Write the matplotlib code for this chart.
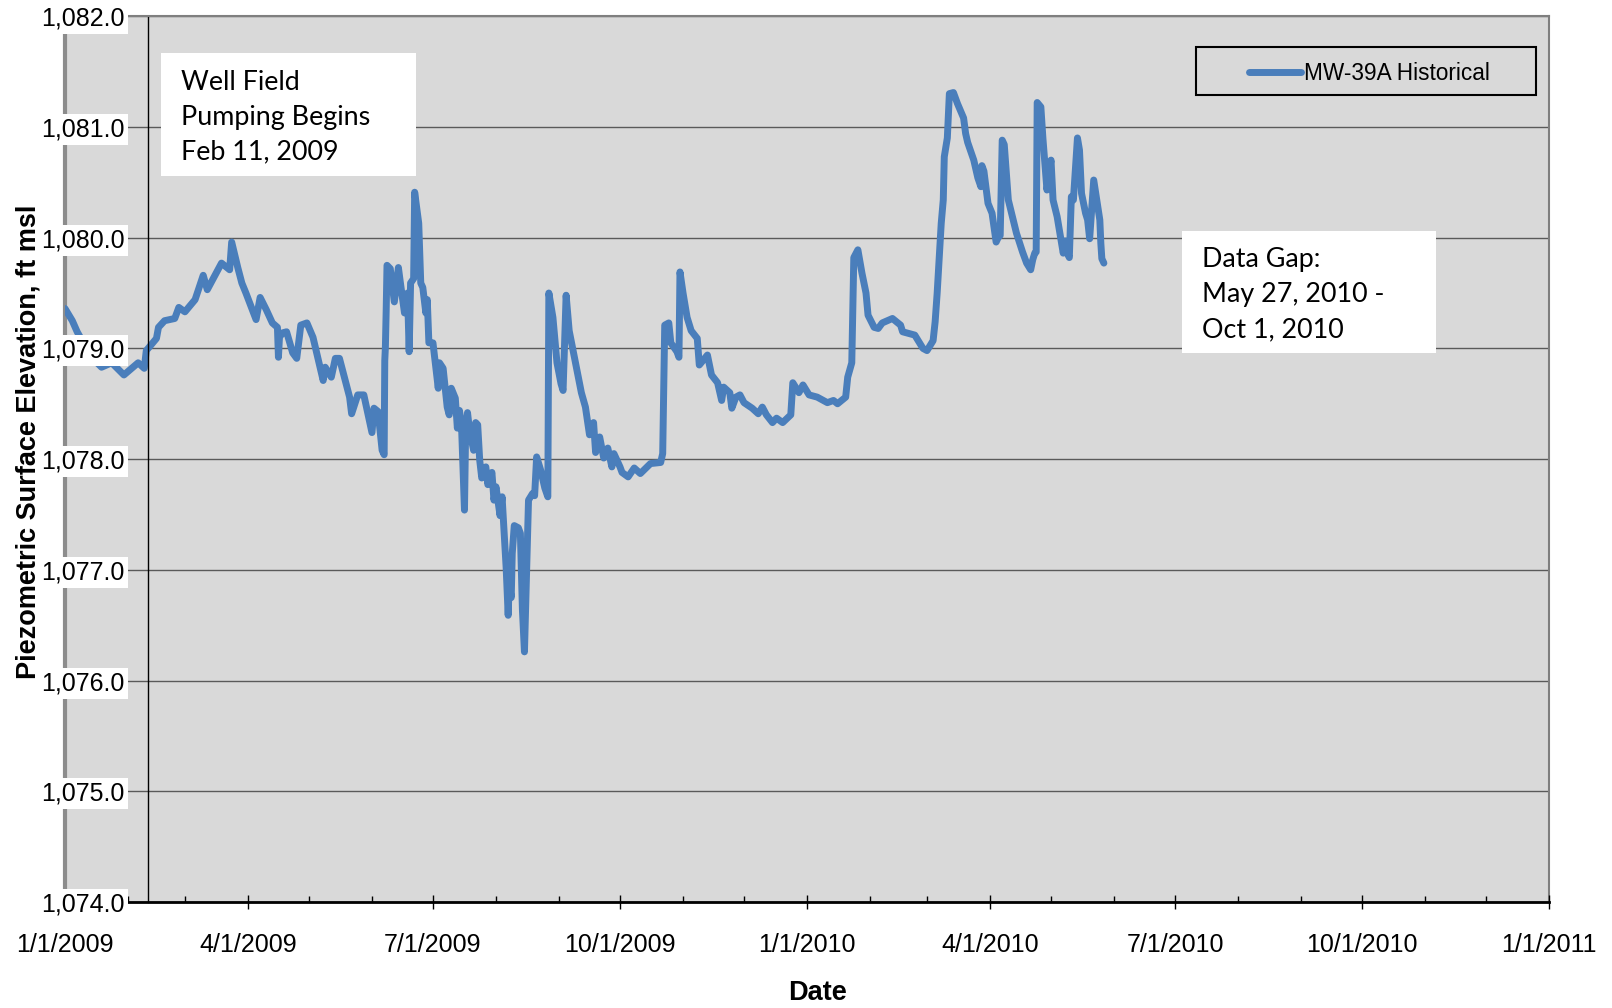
import numpy as np
import pandas as pd
import matplotlib
matplotlib.use('Agg')
import matplotlib.pyplot as plt
import matplotlib.dates as mdates
from matplotlib.patches import Rectangle

# %% Datos: MW-39A, dias desde 1/1/2009 y nivel (ft msl)
fecha_inicio = '2009-01-01'
inicio_bombeo = '2009-02-11'
serie = 'MW-39A Historical'

dias = [0, 3.6, 6, 13, 18, 23, 29, 36, 39, 40,
        45, 46, 49, 54, 56, 59, 64, 68, 70, 77,
        81, 82, 85, 87, 89, 94, 96, 99, 102, 104.5,
        105, 105.5, 107, 109, 112, 114, 116, 119, 122, 127,
        128, 131, 133, 135, 140, 141, 144, 147, 151, 152,
        154, 156, 157, 157.3, 157.6, 158, 158.4, 160, 162, 164,
        165, 167, 168.5, 169.3, 170, 171.5, 172, 174, 175, 176,
        177.5, 178.2, 179, 181, 183, 183.6, 184.2, 186, 188, 189,
        190, 192, 193, 194, 195, 196.5, 197, 198, 199, 201,
        202, 203, 204, 205, 207, 208, 210, 211, 212, 214,
        215, 217, 218, 218.5, 219.5, 220, 221, 223, 224, 225,
        226, 227.5, 228, 230, 231, 232, 234, 236, 237.5, 238,
        240, 242, 244, 245, 246.5, 248, 251, 254, 256, 258,
        260, 261, 263, 265, 267, 269, 270, 273, 274, 277,
        280, 283, 288, 293, 294, 295, 297, 298, 301, 302,
        302.5, 304, 306, 308, 311, 312, 316, 318, 321, 323,
        324, 327, 328, 330, 332, 334, 338, 341, 343, 345,
        348, 350, 353, 357, 358, 361, 363, 366, 370, 375,
        378, 380, 384, 385, 387, 388, 390, 392, 394, 395,
        398, 400, 402, 407, 411, 412, 418, 422, 424, 427,
        428, 429, 431, 432, 432.5, 434, 435, 437, 439, 442,
        443, 444, 447, 449, 450.5, 451, 452, 454, 456, 458,
        459, 460, 461, 462, 464, 466, 468, 471, 473, 475,
        476, 477, 477.7, 478.2, 480, 481, 483, 484, 485, 486,
        488, 491, 492, 493, 494, 495, 496, 498, 499, 500,
        502, 503, 504, 506, 507, 509, 509.5, 510, 511]

nivel = [1079.36, 1079.25, 1079.15, 1078.92, 1078.83, 1078.87, 1078.76, 1078.87, 1078.82, 1078.98,
         1079.09, 1079.19, 1079.25, 1079.27, 1079.37, 1079.33, 1079.44, 1079.66, 1079.53, 1079.77,
         1079.71, 1079.96, 1079.73, 1079.59, 1079.50, 1079.26, 1079.46, 1079.35, 1079.23, 1079.19,
         1078.92, 1079.10, 1079.14, 1079.15, 1078.96, 1078.91, 1079.21, 1079.23, 1079.10, 1078.71,
         1078.83, 1078.74, 1078.91, 1078.91, 1078.56, 1078.41, 1078.58, 1078.58, 1078.24, 1078.46,
         1078.43, 1078.08, 1078.04, 1078.89, 1079.01, 1079.35, 1079.75, 1079.72, 1079.42, 1079.73,
         1079.59, 1079.32, 1079.50, 1078.97, 1079.59, 1079.63, 1080.41, 1080.13, 1079.59, 1079.55,
         1079.32, 1079.44, 1079.05, 1079.05, 1078.74, 1078.64, 1078.87, 1078.82, 1078.47, 1078.40,
         1078.64, 1078.55, 1078.28, 1078.44, 1078.33, 1077.54, 1078.17, 1078.42, 1078.26, 1078.08,
         1078.33, 1078.31, 1077.99, 1077.83, 1077.93, 1077.77, 1077.88, 1077.63, 1077.75, 1077.49,
         1077.66, 1077.02, 1076.59, 1076.88, 1076.75, 1077.15, 1077.40, 1077.38, 1077.33, 1076.64,
         1076.26, 1077.27, 1077.63, 1077.69, 1077.67, 1078.02, 1077.90, 1077.74, 1077.66, 1079.50,
         1079.28, 1078.87, 1078.68, 1078.62, 1079.48, 1079.16, 1078.88, 1078.60, 1078.47, 1078.22,
         1078.33, 1078.06, 1078.20, 1078.01, 1078.10, 1077.93, 1078.05, 1077.93, 1077.88, 1077.84,
         1077.92, 1077.87, 1077.96, 1077.97, 1078.05, 1079.21, 1079.23, 1079.05, 1078.97, 1078.92,
         1079.69, 1079.50, 1079.28, 1079.16, 1079.09, 1078.85, 1078.94, 1078.76, 1078.69, 1078.53,
         1078.65, 1078.60, 1078.46, 1078.56, 1078.58, 1078.51, 1078.46, 1078.41, 1078.47, 1078.40,
         1078.33, 1078.37, 1078.33, 1078.40, 1078.69, 1078.60, 1078.67, 1078.58, 1078.56, 1078.51,
         1078.53, 1078.50, 1078.56, 1078.74, 1078.87, 1079.82, 1079.89, 1079.68, 1079.50, 1079.30,
         1079.19, 1079.18, 1079.23, 1079.27, 1079.21, 1079.15, 1079.12, 1079.00, 1078.98, 1079.07,
         1079.24, 1079.50, 1080.13, 1080.34, 1080.73, 1080.90, 1081.30, 1081.31, 1081.21, 1081.08,
         1080.94, 1080.86, 1080.70, 1080.54, 1080.46, 1080.65, 1080.60, 1080.31, 1080.22, 1079.96,
         1080.00, 1080.02, 1080.88, 1080.84, 1080.34, 1080.19, 1080.04, 1079.87, 1079.77, 1079.71,
         1079.80, 1079.86, 1079.87, 1081.22, 1081.18, 1080.90, 1080.43, 1080.58, 1080.70, 1080.34,
         1080.19, 1079.86, 1079.97, 1079.86, 1079.82, 1080.37, 1080.34, 1080.90, 1080.79, 1080.40,
         1080.22, 1080.16, 1079.99, 1080.52, 1080.40, 1080.16, 1079.95, 1079.81, 1079.77]

assert len(dias) == len(nivel)

y_min, y_max = 1074.0, 1082.0
y_ticks = np.arange(1074, 1083, 1)
x_lim = ['2009-01-01', '2011-01-01']

texto_bombeo = 'Well Field\nPumping Begins\nFeb 11, 2009'
texto_hueco = 'Data Gap:\nMay 27, 2010 -\nOct 1, 2010'

fechas = pd.Timestamp(fecha_inicio) + pd.to_timedelta(dias, unit='D')

# %% Grafica
azul = '#4a7ebb'
gris_fondo = '#d9d9d9'

fig = plt.figure(figsize=(16.12, 10.08), dpi=100)
ax = fig.add_axes([0.0403, 0.105, 0.9207, 0.879])
ax.set_facecolor(gris_fondo)
ax.set_axisbelow(False)   # etiquetas del eje por encima de la serie

for yv in y_ticks:
    ax.axhline(yv, color='#5a5a5a', lw=1.0, zorder=1)

ax.plot(fechas, nivel, color=azul, lw=5, solid_joinstyle='round',
        solid_capstyle='round', zorder=2, label=serie)

ax.set_xlim(pd.Timestamp(x_lim[0]), pd.Timestamp(x_lim[1]))
ax.set_ylim(y_min, y_max)
ax.set_yticks(y_ticks)
ax.yaxis.set_major_formatter(plt.FuncFormatter(lambda v, p: f'{v:,.1f}'))

ax.xaxis.set_major_locator(mdates.MonthLocator(bymonth=[1, 4, 7, 10]))
ax.xaxis.set_minor_locator(mdates.MonthLocator())
ax.xaxis.set_major_formatter(plt.FuncFormatter(
    lambda v, p: f'{mdates.num2date(v).month}/{mdates.num2date(v).day}/{mdates.num2date(v).year}'))

# eje vertical en el inicio del bombeo
ax.spines['left'].set_position(('data', mdates.date2num(pd.Timestamp(inicio_bombeo))))
ax.spines['left'].set_color('black')
ax.spines['left'].set_linewidth(1.0)
ax.spines['bottom'].set_color('black')
ax.spines['bottom'].set_linewidth(2.0)
for lado in ['top', 'right']:
    ax.spines[lado].set_color('#7f7f7f')
    ax.spines[lado].set_linewidth(1.5)
ax.plot([0, 0], [0, 1], transform=ax.transAxes, color='#8c8c8c', lw=3,
        clip_on=False, zorder=1.2)

ax.tick_params(axis='y', length=0, pad=17, labelsize=18, labelfontfamily='Liberation Sans')
for lbl in ax.get_yticklabels():
    lbl.set_bbox(dict(facecolor='white', edgecolor='none', pad=2.5))
ax.tick_params(axis='x', which='major', direction='inout', length=10, width=1,
               pad=17, labelsize=18, labelfontfamily='Liberation Sans')
ax.tick_params(axis='x', which='minor', direction='in', length=4.5, width=1)

ax.set_ylabel('Piezometric Surface Elevation, ft msl', fontsize=19.5,
              fontweight='bold', family='Liberation Sans')
ax.yaxis.set_label_coords(-0.016, 0.519)
ax.set_xlabel('Date', fontsize=19.5, fontweight='bold', family='Liberation Sans')
ax.xaxis.set_label_coords(0.507, -0.088)

# cuadros de texto
ax.add_patch(Rectangle((0.0647, 0.8194), 0.1718, 0.1388, transform=ax.transAxes,
                       facecolor='white', edgecolor='none', zorder=4))
ax.text(0.0782, 0.9395, texto_bombeo, transform=ax.transAxes, fontsize=19.4,
        family='Lato', va='top', ha='left', linespacing=1.5, zorder=5)
ax.add_patch(Rectangle((0.7527, 0.6196), 0.1712, 0.1377, transform=ax.transAxes,
                       facecolor='white', edgecolor='none', zorder=4))
ax.text(0.7662, 0.7395, texto_hueco, transform=ax.transAxes, fontsize=19.4,
        family='Lato', va='top', ha='left', linespacing=1.5, zorder=5)

# leyenda
ax.add_patch(Rectangle((0.762, 0.9112), 0.2291, 0.0542, transform=ax.transAxes,
                       facecolor='none', edgecolor='black', lw=1.5, zorder=5))
ax.legend(loc='center', bbox_to_anchor=(0.879, 0.935), frameon=False,
          handlelength=2.3, handletextpad=0.15,
          prop={'family': 'Liberation Sans', 'size': 16.3})

fig.savefig('out.png', dpi=100)
